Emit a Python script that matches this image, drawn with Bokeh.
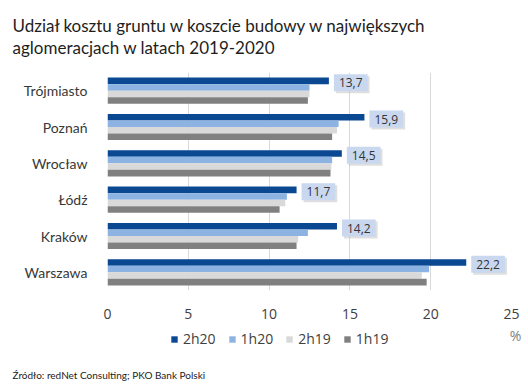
from bokeh.plotting import figure
from bokeh.layouts import column
from bokeh.models import (ColumnDataSource, FactorRange, Range1d, FixedTicker,
                          Legend, LegendItem, Label)
from bokeh.transform import dodge
from bokeh.core.properties import value
from bokeh.embed import file_html
from bokeh.resources import INLINE

cities = ["Trójmiasto", "Poznań", "Wrocław", "Łódź", "Kraków", "Warszawa"]
v_2h20 = [13.7, 15.9, 14.5, 11.7, 14.2, 22.2]
v_1h20 = [12.5, 14.3, 13.9, 11.1, 12.4, 19.9]
v_2h19 = [12.5, 14.2, 13.85, 11.0, 11.8, 19.45]
v_1h19 = [12.4, 13.9, 13.8, 10.65, 11.7, 19.75]
series = ["2h20", "1h20", "2h19", "1h19"]
colors = ["#0A4891", "#8DB3E2", "#D9D9D9", "#808080"]
x_ticks = [0, 5, 10, 15, 20, 25]
title_lines = ["Udział kosztu gruntu w koszcie budowy w największych",
               "aglomeracjach w latach 2019-2020"]
source_text = "Źródło: redNet Consulting; PKO Bank Polski"
unit_text = "%"

labels = [f"{v:.1f}".replace(".", ",") for v in v_2h20]
src = ColumnDataSource(dict(city=cities, s2h20=v_2h20, s1h20=v_1h20,
                            s2h19=v_2h19, s1h19=v_1h19, lab=labels))
cols = ["s2h20", "s1h20", "s2h19", "s1h19"]
offsets = [0.27, 0.09, -0.09, -0.27]


def strip(height):
    s = figure(width=528, height=height, output_backend="svg",
               toolbar_location=None, x_range=Range1d(-2, -1),
               y_range=FactorRange(factors=cities[::-1], range_padding=0),
               x_axis_location=None, y_axis_location=None, min_border=0)
    s.outline_line_color = None
    s.grid.grid_line_color = None
    s.frame_align = False
    return s


# ---------- title strip ----------
t = strip(72)
for i, line in enumerate(title_lines):
    t.add_layout(Label(x=12, y=47 - 22 * i, x_units="screen", y_units="screen",
                       text=line, text_font="Lato", text_font_size="17px",
                       text_color="#1E1E1E", text_baseline="alphabetic"))

# ---------- main chart ----------
p = figure(width=528, height=252, output_backend="svg", toolbar_location=None,
           y_range=FactorRange(factors=cities[::-1], range_padding=0),
           x_range=Range1d(0, 25),
           min_border_left=107, min_border_right=17, min_border_top=0,
           min_border_bottom=34)
p.outline_line_color = None
p.frame_align = False
p.title.text = ""
p.title.standoff = 0
p.title.text_font_size = "1px"

for c, off, col in zip(cols, offsets, colors):
    p.hbar(y=dodge("city", off, range=p.y_range), right=c, left=0,
           height=0.18, color=col, line_color=None, source=src)

# data labels with boxes (shadow + box)
p.text(x="s2h20", y=dodge("city", 0.22, range=p.y_range), text="lab",
       source=src, x_offset=7, y_offset=2, text_alpha=0,
       text_font=value("Open Sans"), text_font_size="12px",
       text_align="left", text_baseline="middle",
       background_fill_color="#B0B0B0", background_fill_alpha=0.4,
       padding=dict(left=5, right=5, top=4, bottom=4))
p.text(x="s2h20", y=dodge("city", 0.22, range=p.y_range), text="lab",
       source=src, x_offset=5, text_color="#333333",
       text_font=value("Open Sans"), text_font_size="12px",
       text_align="left", text_baseline="middle",
       background_fill_color="#C9D8EE",
       padding=dict(left=5, right=5, top=4, bottom=4))

p.xgrid.grid_line_color = "#D9D9D9"
p.ygrid.grid_line_color = None
p.xaxis.ticker = FixedTicker(ticks=x_ticks)
p.xaxis.axis_line_color = None
p.xaxis.major_tick_line_color = None
p.xaxis.minor_tick_line_color = None
p.xaxis.major_label_standoff = 12
p.xaxis.major_label_text_font = "Open Sans"
p.xaxis.major_label_text_font_size = "14px"
p.xaxis.major_label_text_color = "#404040"

p.yaxis.axis_line_color = None
p.yaxis.major_tick_line_color = None
p.yaxis.minor_tick_line_color = None
p.yaxis.major_label_standoff = 14
p.yaxis.major_label_text_font = "Lato"
p.yaxis.major_label_text_font_size = "14px"
p.yaxis.major_label_text_color = "#383838"

# ---------- legend / footer strip ----------
f = strip(60)
# legend carriers: same series as the chart, outside this strip's visible range
leg_renderers = []
for c, off, col in zip(cols, offsets, colors):
    leg_renderers.append(f.hbar(y=dodge("city", off, range=f.y_range), right=c,
                                left=0, height=0.18, color=col,
                                line_color=None, source=src))

legend = Legend(items=[LegendItem(label=s, renderers=[r]) for s, r in zip(series, leg_renderers)],
                orientation="horizontal", location=(170, 36),
                glyph_width=8, glyph_height=8, label_standoff=5, spacing=12,
                padding=0, margin=0, background_fill_alpha=0,
                border_line_color=None,
                label_text_font="Open Sans", label_text_font_size="14px",
                label_text_color="#404040")
f.add_layout(legend, "center")

f.add_layout(Label(x=515, y=49, x_units="screen", y_units="screen",
                   text=unit_text, text_font="Open Sans", text_font_size="14px",
                   text_color="#808080", text_align="center", text_baseline="middle"))
f.add_layout(Label(x=12, y=10, x_units="screen", y_units="screen",
                   text=source_text, text_font="Lato", text_font_size="10px",
                   text_color="#222222", text_baseline="alphabetic"))

open("out.html", "w").write(file_html(column(t, p, f, spacing=0), INLINE))
